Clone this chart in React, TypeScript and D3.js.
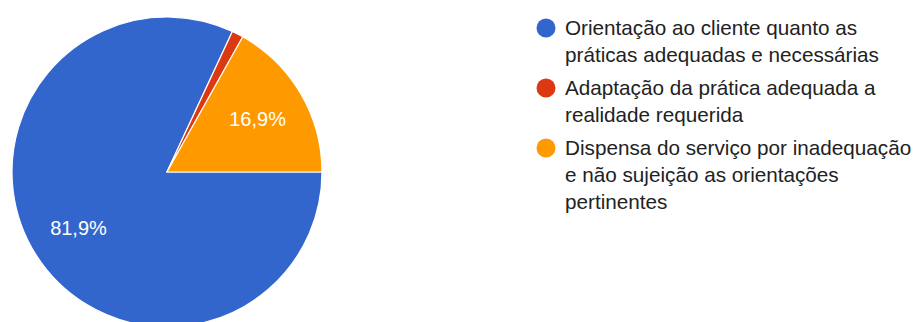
import React from "react";
import * as d3 from "d3";

const categories: string[] = [
  "Orientação ao cliente quanto as práticas adequadas e necessárias",
  "Adaptação da prática adequada a realidade requerida",
  "Dispensa do serviço por inadequação e não sujeição as orientações pertinentes",
];
const legendLines: string[][] = [
  ["Orientação ao cliente quanto as", "práticas adequadas e necessárias"],
  ["Adaptação da prática adequada a", "realidade requerida"],
  ["Dispensa do serviço por inadequação", "e não sujeição as orientações", "pertinentes"],
];
const values: number[] = [68, 1, 14];
const colors: string[] = ["#3366cc", "#dc3912", "#ff9900"];

const W = 915;
const H = 322;
const cx = 167;
const cy = 172;
const R = 155;

export default function App() {
  const total = d3.sum(values);
  const pie = d3
    .pie<number>()
    .sort(null)
    .startAngle(Math.PI / 2)
    .endAngle(Math.PI / 2 + 2 * Math.PI);
  const arcs = pie(values);
  const arc = d3.arc<d3.PieArcDatum<number>>().innerRadius(0).outerRadius(R);
  const labelR = 105;
  const fmt = (v: number) => (Math.round((v / total) * 1000) / 10).toFixed(1).replace(".", ",") + "%";

  let y = 35;
  const legendItems = legendLines.map((lines, i) => {
    const startY = y;
    y += lines.length * 27 + 6;
    return { lines, startY, i };
  });

  return (
    <svg
      width={W}
      height={H}
      style={{ position: "absolute", left: 0, top: 0, background: "#fff" }}
      fontFamily="Arial, 'Liberation Sans', sans-serif"
    >
      <g transform={`translate(${cx},${cy})`}>
        {arcs.map((a, i) => (
          <path key={i} d={arc(a) || ""} fill={colors[i]} stroke="#fff" strokeWidth={1.2} />
        ))}
        {arcs.map((a, i) => {
          if (a.endAngle - a.startAngle < 0.3) return null;
          const m = (a.startAngle + a.endAngle) / 2;
          const x = labelR * Math.sin(m);
          const yy = -labelR * Math.cos(m);
          return (
            <text
              key={"l" + i}
              x={x}
              y={yy}
              textAnchor="middle"
              dominantBaseline="central"
              fill="#fff"
              fontSize={20}
            >
              {fmt(values[i])}
            </text>
          );
        })}
      </g>
      <g>
        {legendItems.map(({ lines, startY, i }) => (
          <g key={categories[i]}>
            <circle cx={546} cy={startY - 7} r={9.5} fill={colors[i]} />
            {lines.map((ln, k) => (
              <text key={k} x={565} y={startY + k * 27} fontSize={20.7} fill="#222">
                {ln}
              </text>
            ))}
          </g>
        ))}
      </g>
    </svg>
  );
}
